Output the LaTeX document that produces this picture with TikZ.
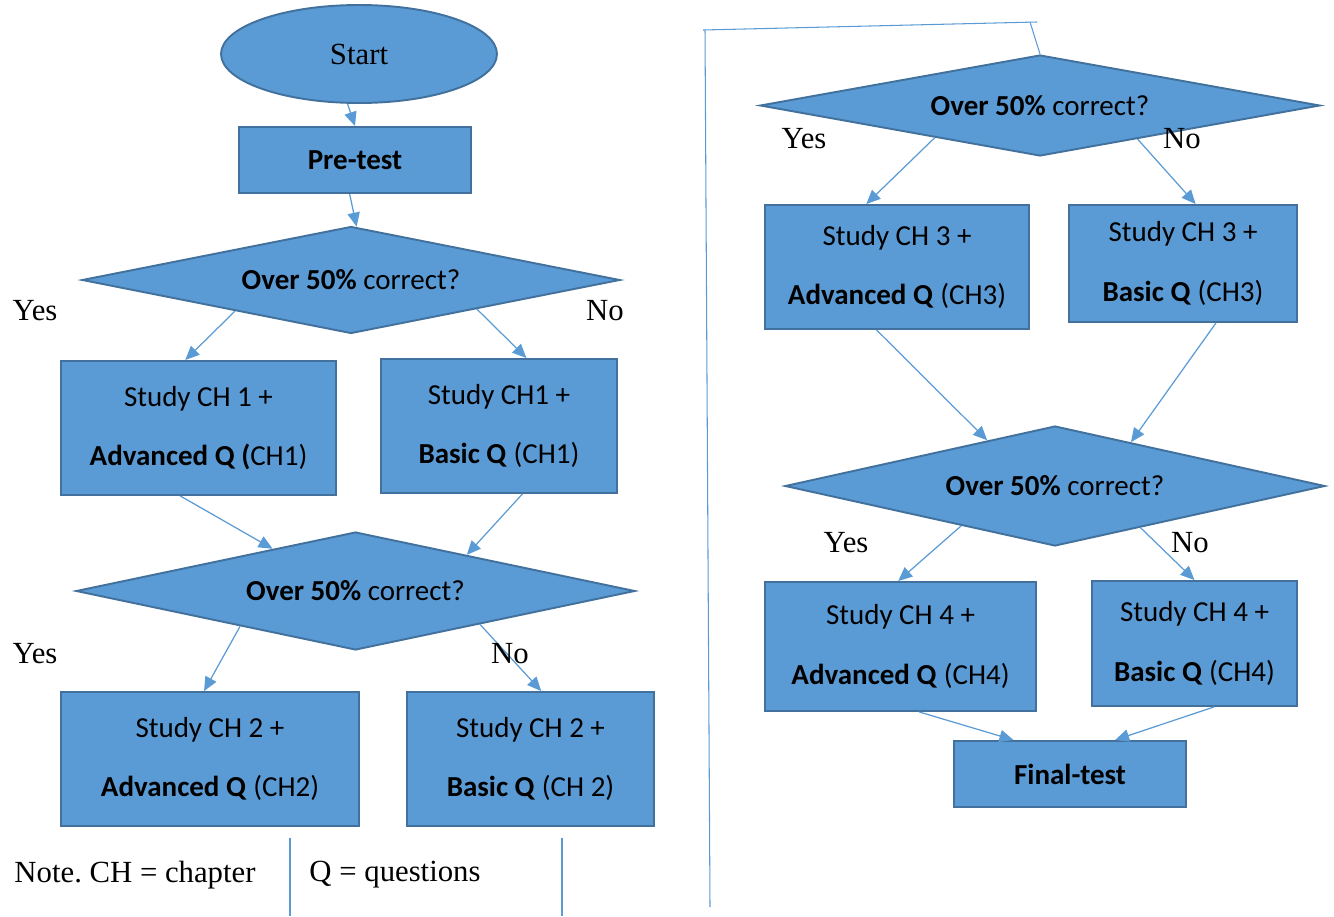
\documentclass[tikz,border=0pt]{standalone}
\usepackage{fontspec}
\setmainfont{Liberation Serif}
\newfontfamily\carlito{Carlito}
\usetikzlibrary{shapes.geometric,arrows.meta}
\definecolor{boxfill}{HTML}{5B9BD5}
\definecolor{boxline}{HTML}{41719C}
\frenchspacing
\begin{document}
\begin{tikzpicture}[x=0.02cm,y=-0.02cm]
\tikzstyle{block}=[draw=boxline,fill=boxfill,line width=1.1pt,inner sep=0pt,align=center,font=\carlito\fontsize{16.5}{34}\selectfont]
\tikzstyle{decide}=[block,shape=diamond,aspect=5]
\tikzstyle{arr}=[draw=boxfill,line width=0.7pt,-{Triangle[length=8pt,width=7pt]}]
\tikzstyle{thin}=[draw=boxfill,line width=0.6pt]
\tikzstyle{word}=[font=\fontsize{17.5}{20}\selectfont]
\useasboundingbox (0,0) rectangle (1334,916);

% left column
\path (359,54) node[block,shape=ellipse,minimum width=5.52cm,minimum height=1.96cm,font=\fontsize{17.5}{20}\selectfont](start){Start};
\path (355,160) node[block,minimum width=4.64cm,minimum height=1.32cm](pre){\textbf{Pre-test}};
\path (351,280) node[decide,minimum width=10.76cm,minimum height=2.14cm](d1){\textbf{Over 50\%} correct?};
\path (198.5,428) node[block,minimum width=5.5cm,minimum height=2.68cm](l1){Study CH 1 +\\\textbf{Advanced Q (}CH1)};
\path (499,426) node[block,minimum width=4.72cm,minimum height=2.68cm](r1){Study CH1 +\\\textbf{Basic Q} (CH1)};
\path (355.5,591) node[decide,minimum width=11.18cm,minimum height=2.36cm](d2){\textbf{Over 50\%} correct?};
\path (210,759) node[block,minimum width=5.96cm,minimum height=2.68cm](l2){Study CH 2 +\\\textbf{Advanced Q} (CH2)};
\path (530.5,759) node[block,minimum width=4.94cm,minimum height=2.68cm](r2){Study CH 2 +\\\textbf{Basic Q} (CH 2)};

\draw[arr] (start.-103) -- (pre.north);
\draw[arr] (pre.-99) -- (d1.84);
\draw[arr] (d1.195.6) -- (l1.101.4);
\draw[arr] (d1.-13.7) -- (r1.68.8);
\draw[arr] (l1.-105.4) -- (d2.153.8);
\draw[arr] (r1.-71) -- (d2.18.2);
\draw[arr] (d2.197.3) -- (l2.95.1);
\draw[arr] (d2.-15.9) -- (r2.81.9);

\path (35,311) node[word](y1){Yes} (605,311) node[word](n1){No};
\path (35,654) node[word](y2){Yes} (510,654) node[word](n2){No};

% note
\path (135,875) node[word](note1){Note. CH = chapter} (395,875) node[word](note2){Q = questions};
\coordinate (s1) at (290,838); \coordinate (s2) at (290,916);
\coordinate (s3) at (562,838); \coordinate (s4) at (562,916);
\draw[thin] (s1) -- (s2);
\draw[thin] (s3) -- (s4);

% link to right column
\coordinate (c1) at (710,907); \coordinate (c2) at (705,30);
\coordinate (c3) at (703,30); \coordinate (c4) at (1037,22); \coordinate (c5) at (1030,22);

% right column
\path (1040,105.5) node[decide,minimum width=11.2cm,minimum height=2.02cm](d3){\textbf{Over 50\%} correct?};
\path (897,267) node[block,minimum width=5.28cm,minimum height=2.48cm](r3l){Study CH 3 +\\\textbf{Advanced Q} (CH3)};
\path (1183,263.5) node[block,minimum width=4.56cm,minimum height=2.34cm](r3r){Study CH 3 +\\\textbf{Basic Q} (CH3)};
\path (1055,486) node[decide,minimum width=10.8cm,minimum height=2.4cm](d4){\textbf{Over 50\%} correct?};
\path (900.5,646.5) node[block,minimum width=5.42cm,minimum height=2.58cm](r4l){Study CH 4 +\\\textbf{Advanced Q} (CH4)};
\path (1194.5,643.5) node[block,minimum width=4.1cm,minimum height=2.5cm](r4r){Study CH 4 +\\\textbf{Basic Q} (CH4)};
\path (1070,774) node[block,minimum width=4.64cm,minimum height=1.32cm](fin){\textbf{Final-test}};

\draw[thin] (c1) -- (c2);
\draw[thin] (c3) -- (c4);
\draw[thin] (c5) -- (d3.north);

\draw[arr] (d3.197.4) -- (r3l.116.6);
\draw[arr] (d3.-19.3) -- (r3r.78.4);
\draw[arr] (r3l.-108.7) -- (d4.146);
\draw[arr] (r3r.-61.3) -- (d4.30.9);
\draw[arr] (d4.203.9) -- (r4l.92);
\draw[arr] (d4.-26.3) -- (r4r.90);
\draw[arr] (r4l.-74.8) -- (fin.149);
\draw[arr] (r4r.-73.5) -- (fin.37.5);

\path (804,139) node[word](y3){Yes} (1182,139) node[word](n3){No};
\path (846,543) node[word](y4){Yes} (1190,543) node[word](n4){No};
\end{tikzpicture}
\end{document}
